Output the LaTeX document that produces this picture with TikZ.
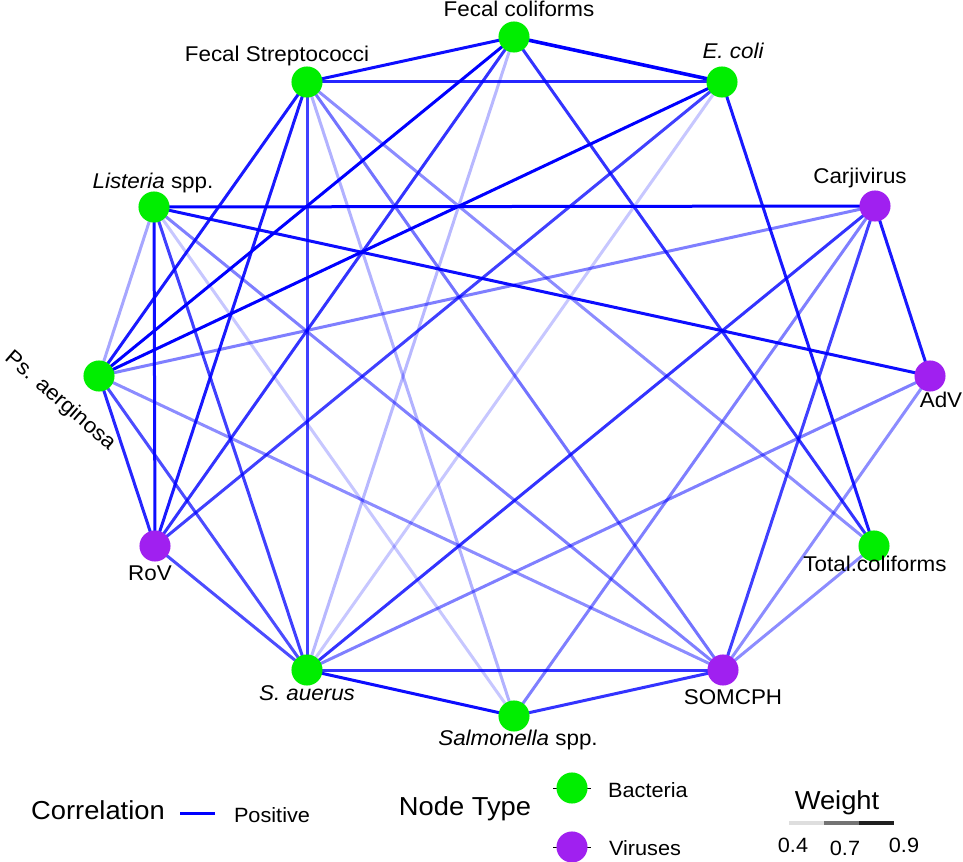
\documentclass[tikz,border=0pt]{standalone}
\usepackage{fontspec}
\setmainfont{Liberation Sans}[FakeStretch=1.05]
\pgfdeclarelayer{bg}
\pgfsetlayers{bg,main}
\definecolor{bgreen}{RGB}{0,238,0}
\definecolor{vpurple}{RGB}{160,32,240}
\definecolor{edgeblue}{RGB}{0,0,255}
\begin{document}
\begin{tikzpicture}[x=0.75pt,y=-0.75pt,
  vert/.style={circle, minimum size=23.3pt, inner sep=0pt, draw=none},
  bac/.style={vert, fill=bgreen},
  vir/.style={vert, fill=vpurple},
  lab/.style={font=\fontsize{16}{16}\selectfont, inner sep=0pt, anchor=base},
  legtitle/.style={font=\fontsize{19.5}{19.5}\selectfont, inner sep=0pt, anchor=base},
  legtext/.style={font=\fontsize{15.5}{15.5}\selectfont, inner sep=0pt, anchor=base},
  ed/.style={draw=edgeblue, line width=2.25pt, draw opacity=#1},
]
\useasboundingbox (0,0) rectangle (963,862);

% vertices
\node[bac] (FC) at (514,37) {};
\node[bac] (EC) at (722,82) {};
\node[vir] (CA) at (875,206) {};
\node[vir] (AD) at (930,376) {};
\node[bac] (TC) at (874,546) {};
\node[vir] (SO) at (723,670) {};
\node[bac] (SA) at (514,716) {};
\node[bac] (SU) at (307,670) {};
\node[vir] (RO) at (155,546) {};
\node[bac] (PS) at (99,376) {};
\node[bac] (LI) at (154,207) {};
\node[bac] (FS) at (307,82) {};

% edges
\begin{pgfonlayer}{bg}
\draw[ed=0.95] (FS.center) -- (FC.center);
\draw[ed=0.85] (FS.center) -- (EC.center);
\draw[ed=0.9] (FS.center) -- (PS.center);
\draw[ed=0.9] (FS.center) -- (RO.center);
\draw[ed=0.75] (FS.center) -- (SU.center);
\draw[ed=0.3] (FS.center) -- (SA.center);
\draw[ed=0.55] (FS.center) -- (SO.center);
\draw[ed=0.45] (FS.center) -- (TC.center);
\draw[ed=1, line width=2.7pt] (FC.center) -- (EC.center);
\draw[ed=1] (FC.center) -- (PS.center);
\draw[ed=0.8] (FC.center) -- (RO.center);
\draw[ed=0.28] (FC.center) -- (SU.center);
\draw[ed=0.8] (FC.center) -- (TC.center);
\draw[ed=1] (EC.center) -- (PS.center);
\draw[ed=0.75] (EC.center) -- (RO.center);
\draw[ed=0.22] (EC.center) -- (SU.center);
\draw[ed=0.9] (EC.center) -- (TC.center);
\draw[ed=1] (LI.center) -- (CA.center);
\draw[ed=0.95] (LI.center) -- (AD.center);
\draw[ed=0.35] (LI.center) -- (PS.center);
\draw[ed=0.95] (LI.center) -- (RO.center);
\draw[ed=0.75] (LI.center) -- (SU.center);
\draw[ed=0.22] (LI.center) -- (SA.center);
\draw[ed=0.5] (LI.center) -- (SO.center);
\draw[ed=0.5] (PS.center) -- (CA.center);
\draw[ed=0.45] (PS.center) -- (SO.center);
\draw[ed=0.85] (PS.center) -- (RO.center);
\draw[ed=0.7] (PS.center) -- (SU.center);
\draw[ed=0.7] (RO.center) -- (SU.center);
\draw[ed=0.8] (CA.center) -- (SU.center);
\draw[ed=0.5] (CA.center) -- (SA.center);
\draw[ed=0.75] (CA.center) -- (SO.center);
\draw[ed=0.9] (CA.center) -- (AD.center);
\draw[ed=0.5] (AD.center) -- (SU.center);
\draw[ed=0.45] (AD.center) -- (SO.center);
\draw[ed=0.45] (TC.center) -- (SO.center);
\draw[ed=0.8] (SU.center) -- (SO.center);
\draw[ed=0.95] (SU.center) -- (SA.center);
\draw[ed=0.8] (SA.center) -- (SO.center);
\end{pgfonlayer}

% labels
\node[lab] (lFC) at (519,17) {Fecal coliforms};
\node[lab] (lFS) at (277,62) {Fecal Streptococci};
\node[lab] (lEC) at (733,59) {\itshape E. coli};
\node[lab] (lLI) at (153,189) {\textit{Listeria} spp.};
\node[lab] (lCA) at (860,184) {Carjivirus};
\node[lab] (lAD) at (941,408) {AdV};
\node[lab] (lTC) at (875,571) {Total.coliforms};
\node[lab] (lSO) at (733,704) {SOMCPH};
\node[lab] (lSA) at (518,745) {\textit{Salmonella} spp.};
\node[lab] (lSU) at (307,700) {\itshape S. auerus};
\node[lab] (lRO) at (150,580) {RoV};
\node[lab, anchor=center, rotate=-41] (lPS) at (60,401) {Ps. aerginosa};

% legend: correlation
\node[legtitle] (tCor) at (98,819) {Correlation};
\coordinate (k1) at (180,813);
\coordinate (k2) at (215,813);
\draw[draw=edgeblue, line width=2.25pt] (k1) -- (k2);
\node[legtext] (tPos) at (272,822) {Positive};

% legend: node type
\node[legtitle] (tNT) at (465,815) {Node Type};
\coordinate (b1) at (553,788);
\coordinate (b2) at (591,788);
\draw[black, line width=0.6pt] (b1) -- (b2);
\node[bac] (kB) at (572,788) {};
\node[legtext] (tB) at (648,797) {Bacteria};
\coordinate (v1) at (553,847);
\coordinate (v2) at (591,847);
\draw[black, line width=0.6pt] (v1) -- (v2);
\node[vir] (kV) at (572,847) {};
\node[legtext] (tV) at (645,855) {Viruses};

% legend: weight
\node[legtitle] (tW) at (837,809) {Weight};
\coordinate (w0) at (789,823);
\coordinate (w1) at (824,823);
\coordinate (w2) at (859,823);
\coordinate (w3) at (894,823);
\draw[line width=2.3pt, color=black!13] (w0) -- (w1);
\draw[line width=2.3pt, color=black!55] (w1) -- (w2);
\draw[line width=2.3pt, color=black!88] (w2) -- (w3);
\node[legtext] (n4) at (793,852) {0.4};
\node[legtext] (n7) at (845,855) {0.7};
\node[legtext] (n9) at (904,852) {0.9};
\end{tikzpicture}
\end{document}
